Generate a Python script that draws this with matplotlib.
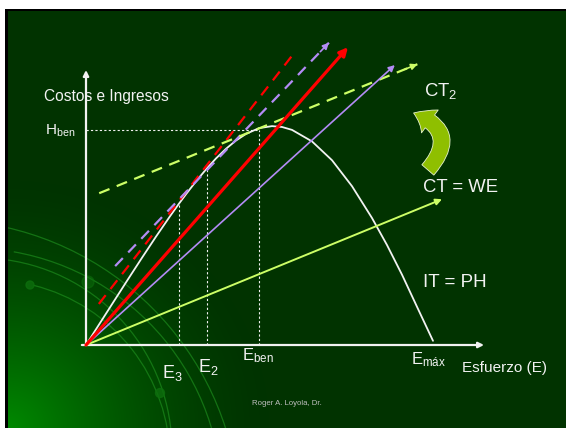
import matplotlib
matplotlib.use('Agg')
import matplotlib.pyplot as plt
import numpy as np
from matplotlib.patches import Arc, Circle, Rectangle, FancyArrowPatch

plt.rcParams['font.family'] = ['Liberation Sans', 'DejaVu Sans']
plt.rcParams['mathtext.fontset'] = 'custom'
plt.rcParams['mathtext.rm'] = 'Liberation Sans'
plt.rcParams['mathtext.it'] = 'Liberation Sans'
plt.rcParams['mathtext.default'] = 'rm'

# yield curve H(E): effort scaled so E_max = 100, harvest scaled so H_ben = 100
effort = [0, 4.03, 8.07, 12.10, 16.14, 20.17, 24.21, 26.80, 28.82, 31.70,
          34.87, 37.46, 40.35, 43.23, 46.11, 49.86, 53.60, 56.5, 59.37,
          65.13, 70.89, 76.66, 82.42, 86.74, 91.07, 95.39, 100]
harvest = [0, 10.22, 20.41, 30.56, 40.59, 50.40, 59.89, 65.75, 70.14, 76.13,
           82.22, 86.77, 91.27, 95.11, 98.18, 100.86, 101.80, 101.4, 100.05,
           94.70, 85.95, 73.86, 59.07, 46.51, 32.70, 17.77, 1.95]

# marked effort levels (E3, E2, Eben) and the harvest reached there
e_marks = [26.8, 34.9, 49.9]
h_marks = [65.75, 82.2, 100.0]
h_ben = 100.0

# straight lines from the origin (end points)
red_end = (75.5, 138.5)
purple_end = (89.0, 130.2)
green_end = (102.6, 67.8)

# tangent lines (start, end)
red_tan = [(3.7, 19.1), (59.4, 134.6)]
purple_tan = [(8.4, 36.7), (70.0, 140.6)]
green_tan = [(3.8, 70.6), (95.5, 130.6)]

x_axis_end = 114.7
y_axis_end = 127.9

W, H = 566, 428
X0, Y0, SX, SY = 86, 345, 3.47, 2.15   # pixel position of origin and px per unit

BG = '#013300'
WHITE = '#f2f2f2'
RED = '#ff0000'
PURPLE = '#b38cf5'
LGREEN = '#ccff66'

fig = plt.figure(figsize=(W / 100, H / 100), dpi=100)
fig.patch.set_facecolor('white')

# ---- slide background ----
bg = fig.add_axes([0, 0, 1, 1])
bg.set_xlim(0, W)
bg.set_ylim(H, 0)
bg.axis('off')
bg.add_patch(Rectangle((5, 9), W, H, facecolor='black', edgecolor='none'))
slide = Rectangle((8, 11), W, H, facecolor=BG, edgecolor='none')
bg.add_patch(slide)

yy, xx = np.mgrid[0:H, 0:W]
d = np.hypot(xx - 8, (yy - H) * 1.05)
glow = np.clip(1 - d / 270, 0, 1) ** 1.6
img = np.zeros((H, W, 4))
img[..., 1] = 0.6
img[..., 3] = glow * 0.85
img[:11, :] = 0
img[:, :8] = 0
bg.imshow(img, extent=(0, W, H, 0), zorder=1, interpolation='bilinear')

for cx, cy, r, t1 in [(-20, 450, 192, -82), (-10, 460, 180, -76),
                      (-30, 500, 252, -80), (-60, 520, 300, -80)]:
    arc = Arc((cx, cy), 2 * r, 2 * r, theta1=t1, theta2=0,
              color='#1c8a1c', lw=0.9, alpha=0.7, zorder=2)
    bg.add_patch(arc)
    arc.set_clip_path(slide)
for cx, cy, r, a in [(30, 285, 4, 0.8), (160, 393, 4.5, 0.8), (88, 282, 6, 0.5)]:
    bg.add_patch(Circle((cx, cy), r, color='#0d6e0d', alpha=a, zorder=2))

# curved green arrow between CT2 and CT = WE
bg.add_patch(FancyArrowPatch((426, 172), (411, 112),
                             connectionstyle='arc3,rad=0.75',
                             arrowstyle='simple,head_width=1.7,head_length=1.1,tail_width=0.95',
                             mutation_scale=12, facecolor='#8fbf00',
                             edgecolor='#e6f2cc', lw=0.6, zorder=3))

# ---- chart ----
ax = fig.add_axes([0, 0, 1, 1])
ax.set_xlim((0 - X0) / SX, (W - X0) / SX)
ax.set_ylim((Y0 - H) / SY, Y0 / SY)
ax.axis('off')
ax.patch.set_alpha(0)

arrow_kw = dict(arrowstyle='-|>', shrinkA=0, shrinkB=0)

# axes
ax.annotate('', xy=(x_axis_end, 0), xytext=(-1.2, 0),
            arrowprops=dict(**arrow_kw, color=WHITE, lw=1.6, mutation_scale=8))
ax.annotate('', xy=(0, y_axis_end), xytext=(0, 0),
            arrowprops=dict(**arrow_kw, color=WHITE, lw=1.6, mutation_scale=8))

# guide lines
ax.plot([0, e_marks[2]], [h_ben, h_ben], color=WHITE, lw=0.8, ls=(0, (2, 2)))
for e, h in zip(e_marks, h_marks):
    ax.plot([e, e], [0, h], color=WHITE, lw=0.8, ls=(0, (2, 2)))

# yield curve
ax.plot(effort, harvest, color=WHITE, lw=1.3, solid_capstyle='round',
        solid_joinstyle='round')

# lines from origin
ax.annotate('', xy=green_end, xytext=(0, 0),
            arrowprops=dict(**arrow_kw, color=LGREEN, lw=1.4, mutation_scale=9))
ax.annotate('', xy=purple_end, xytext=(0, 0),
            arrowprops=dict(**arrow_kw, color=PURPLE, lw=1.2, mutation_scale=9))
ax.annotate('', xy=red_end, xytext=(0, 0),
            arrowprops=dict(**arrow_kw, color=RED, lw=2.3, mutation_scale=12))

# tangents
for seg, col, head in [(red_tan, RED, False), (purple_tan, PURPLE, True),
                       (green_tan, LGREEN, True)]:
    (xa, ya), (xb, yb) = seg
    ax.plot([xa, xb], [ya, yb], color=col, lw=1.6, ls=(0, (5, 3.5)))
    if head:
        ax.annotate('', xy=(xb, yb), xytext=(xb - 0.04 * (xb - xa), yb - 0.04 * (yb - ya)),
                    arrowprops=dict(**arrow_kw, color=col, lw=1.2, mutation_scale=9))

# labels
ax.text(-12.1, 113.6, 'Costos e Ingresos', color=WHITE, fontsize=11.2, va='baseline')
ax.text(-3.2, 97.7, r'H$_{\mathrm{ben}}$', color=WHITE, fontsize=11, va='baseline', ha='right')
ax.text(21.9, -15.3, r'E$_{3}$', color=WHITE, fontsize=13, va='baseline')
ax.text(32.3, -12.6, r'E$_{2}$', color=WHITE, fontsize=13, va='baseline')
ax.text(45.0, -7.0, r'E$_{\mathrm{ben}}$', color=WHITE, fontsize=12, va='baseline')
ax.text(93.7, -8.8, r'E$_{\mathrm{máx}}$', color=WHITE, fontsize=12, va='baseline')
ax.text(108.4, -12.6, 'Esfuerzo (E)', color=WHITE, fontsize=11, va='baseline')
ax.text(97.4, 115.8, r'CT$_{2}$', color=WHITE, fontsize=13.3, va='baseline')
ax.text(97.1, 71.3, 'CT = WE', color=WHITE, fontsize=13.3, va='baseline')
ax.text(97.1, 27.1, 'IT = PH', color=WHITE, fontsize=13.5, va='baseline')
ax.text(57.9, -27.7, 'Roger A. Loyola, Dr.', color='#bfbfbf', fontsize=5.6,
        va='baseline', ha='center')

fig.savefig('out.png', dpi=100, facecolor=fig.get_facecolor())
